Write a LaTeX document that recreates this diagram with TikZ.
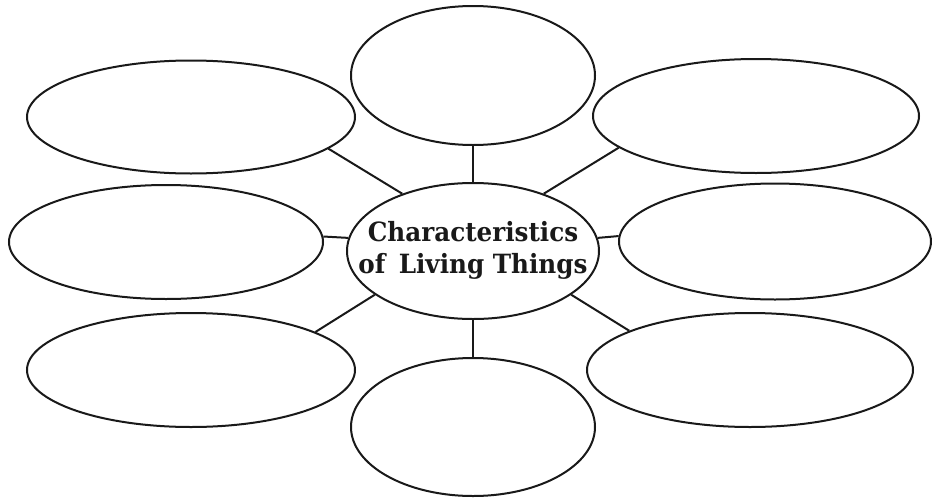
\documentclass[tikz,border=0pt]{standalone}
\usepackage{fontspec}
\usetikzlibrary{shapes.geometric}
\newfontfamily\hubfont[FakeStretch=0.93]{DejaVu Serif}

\tikzset{
    bubble/.style={draw=black!90, line width=2pt, ellipse, inner sep=0pt},
    link/.style={draw=black!90, line width=2pt}
}

\begin{document}
\begin{tikzpicture}[x=1pt,y=-1pt]
        \useasboundingbox (0,0) rectangle (932,498);

        % Centre ellipse with the title
        \node[bubble, minimum width=252pt, minimum height=136pt] (hub) at (473,251) {};
        \node[align=center, inner sep=0pt, text=black!90,
              font=\hubfont\bfseries\fontsize{26.5}{32}\selectfont] (title) at (473,250)
              {Characteristics\\of\hspace{0.5em}Living Things};

        % Empty ellipses round it
        \node[bubble, minimum width=244pt, minimum height=139pt] (top) at (473,75.5) {};
        \node[bubble, minimum width=244pt, minimum height=138pt] (bottom) at (473,427) {};
        \node[bubble, minimum width=328pt, minimum height=113pt] (topleft) at (191,117) {};
        \node[bubble, minimum width=326pt, minimum height=114pt] (topright) at (756,116) {};
        \node[bubble, minimum width=314pt, minimum height=114pt] (midleft) at (166,242) {};
        \node[bubble, minimum width=312pt, minimum height=116pt] (midright) at (775,241.5) {};
        \node[bubble, minimum width=328pt, minimum height=114pt] (botleft) at (191,370) {};
        \node[bubble, minimum width=326pt, minimum height=114pt] (botright) at (750,370) {};

        % Spokes
        \draw[link] (top) -- (hub);
        \draw[link] (hub) -- (bottom);
        \draw[link] (topleft.-13) -- (hub.141);
        \draw[link] (hub.39) -- (topright.193);
        \draw[link] (midleft.2) -- (hub.174);
        \draw[link] (hub.6) -- (midright.178);
        \draw[link] (botleft.17) -- (hub.204);
        \draw[link] (hub.-24) -- (botright.162);
    \end{tikzpicture}
\end{document}
